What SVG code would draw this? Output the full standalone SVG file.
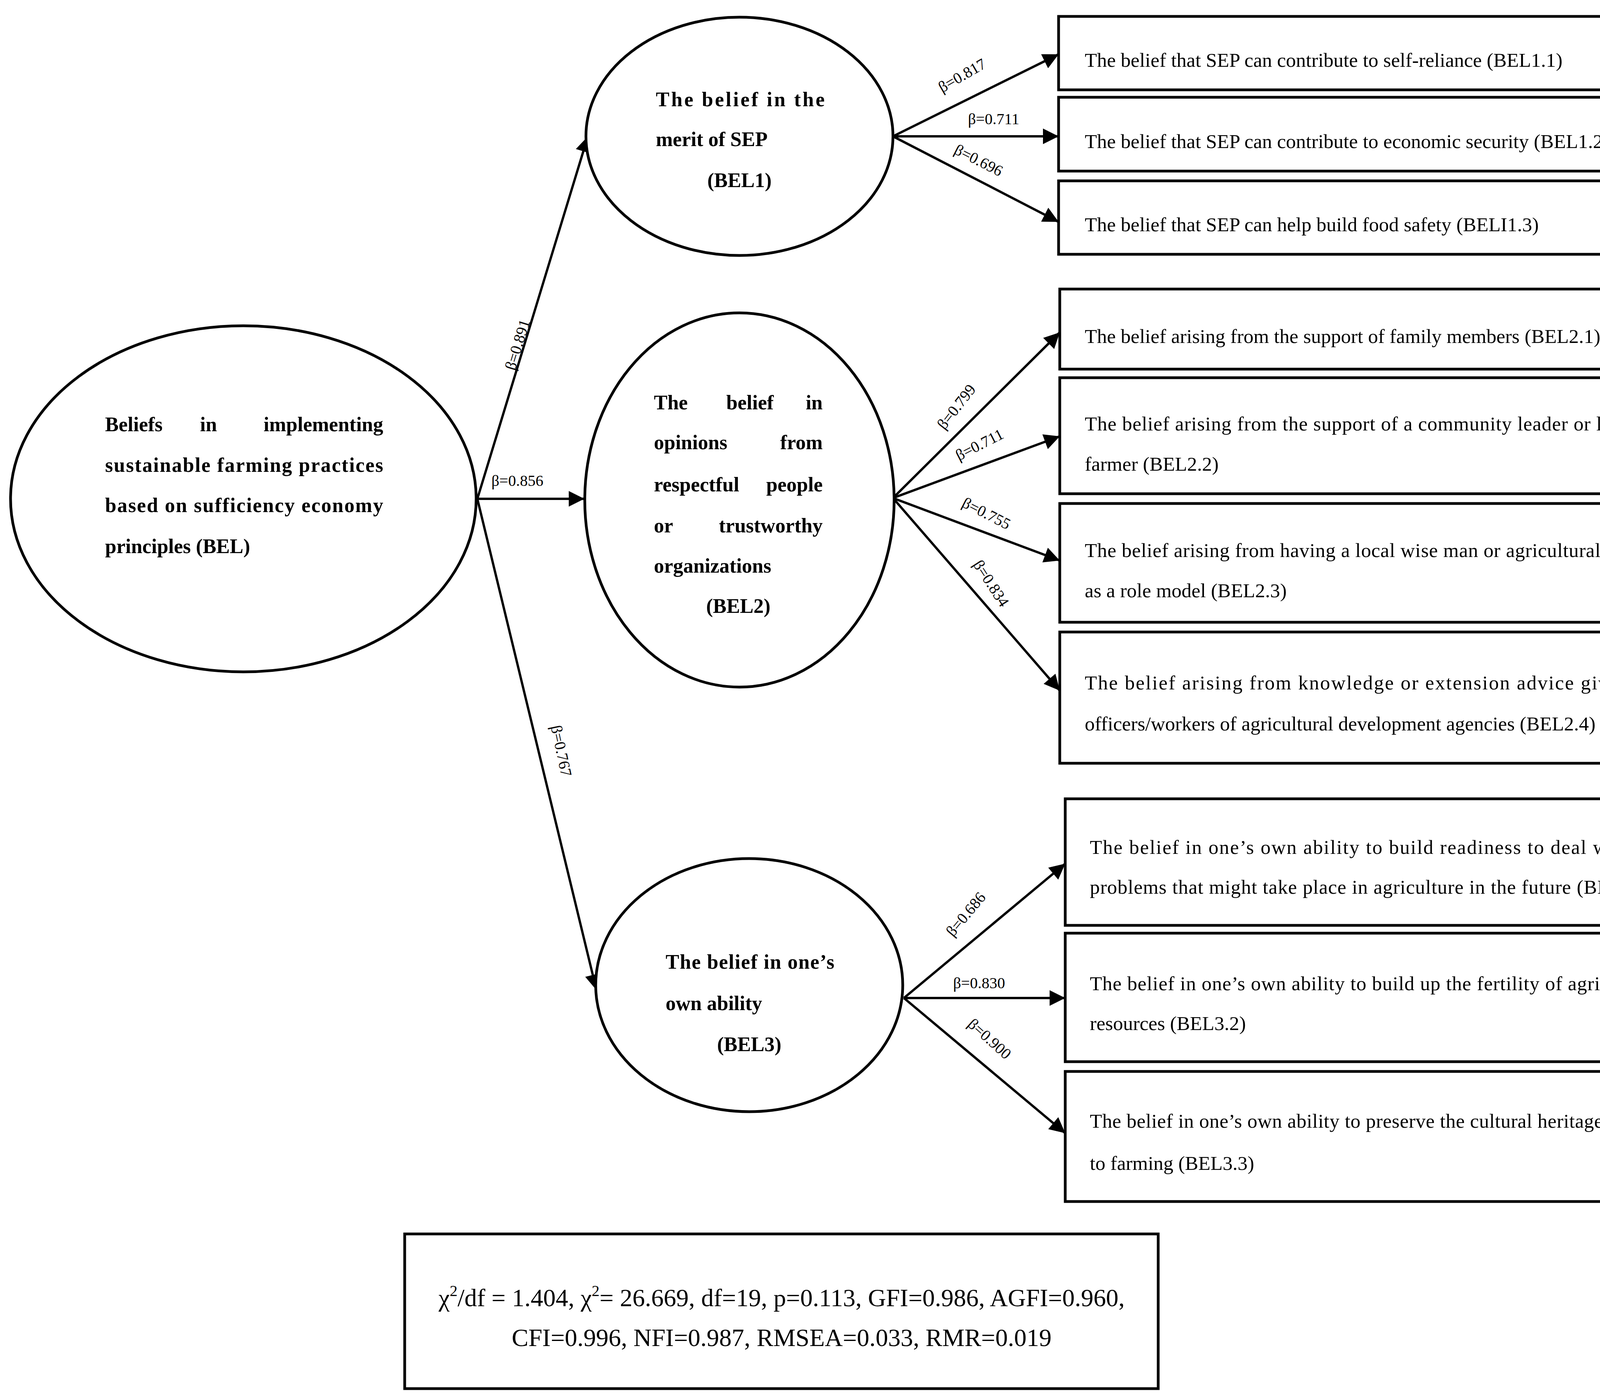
<svg xmlns="http://www.w3.org/2000/svg" width="4342" height="3579" viewBox="0 0 4342 3579">
<style>
.e{fill:#fff;stroke:#000;stroke-width:7}
.b{fill:#fff;stroke:#000;stroke-width:7}
.et{font-family:"Liberation Serif",serif;font-size:52px;font-weight:bold}
.bt{font-family:"Liberation Serif",serif;font-size:51px}
.lb{font-family:"Liberation Serif",serif;font-size:40px}
.c line{stroke:#000;stroke-width:6;marker-end:url(#ah)}
.ft{font-family:"Liberation Serif",serif;font-size:64px}
</style>
<defs>
<marker id="ah" viewBox="0 0 10 10" refX="10" refY="5" markerWidth="44" markerHeight="40" markerUnits="userSpaceOnUse" orient="auto"><path d="M0,0 L10,5 L0,10 z"/></marker>
</defs>
<rect width="4342" height="3579" fill="#fff"/>
<g id="connectors" class="c">
<line x1="1222" y1="1277" x2="1505" y2="349"/>
<line x1="1222" y1="1277" x2="1496" y2="1277"/>
<line x1="1222" y1="1277" x2="1527" y2="2535"/>
<line x1="2286" y1="349" x2="2710" y2="139"/>
<line x1="2286" y1="349" x2="2710" y2="349"/>
<line x1="2286" y1="349" x2="2710" y2="568"/>
<line x1="2286" y1="1275" x2="2713" y2="851"/>
<line x1="2286" y1="1275" x2="2713" y2="1117"/>
<line x1="2286" y1="1275" x2="2713" y2="1435"/>
<line x1="2286" y1="1275" x2="2713" y2="1768"/>
<line x1="2314" y1="2555" x2="2727" y2="2211"/>
<line x1="2314" y1="2555" x2="2727" y2="2555"/>
<line x1="2314" y1="2555" x2="2727" y2="2901"/>
<g class="lb">
<text transform="translate(1318,950) rotate(-73)">β=0.891</text>
<text x="1258" y="1244">β=0.856</text>
<text transform="translate(1410,1860) rotate(78)">β=0.767</text>
<text transform="translate(2412,238) rotate(-30)">β=0.817</text>
<text x="2478" y="318">β=0.711</text>
<text transform="translate(2440,392) rotate(27)">β=0.696</text>
<text transform="translate(2418,1102) rotate(-52)">β=0.799</text>
<text transform="translate(2455,1180) rotate(-27)">β=0.711</text>
<text transform="translate(2460,1296) rotate(27)">β=0.755</text>
<text transform="translate(2490,1445) rotate(57)">β=0.834</text>
<text transform="translate(2440,2400) rotate(-50)">β=0.686</text>
<text x="2440" y="2530">β=0.830</text>
<text transform="translate(2475,2625) rotate(42)">β=0.900</text>
</g>
</g>
<g id="BEL">
<ellipse class="e" cx="623" cy="1277" rx="596" ry="443"/>
<text class="et" y="1104"><tspan x="269">Beliefs</tspan><tspan x="512">in</tspan><tspan x="981" text-anchor="end">implementing</tspan></text>
<text class="et" x="269" y="1208" textLength="712" lengthAdjust="spacing">sustainable farming practices</text>
<text class="et" x="269" y="1311" textLength="712" lengthAdjust="spacing">based on sufficiency economy</text>
<text class="et" x="269" y="1416">principles (BEL)</text>
</g>
<g id="BEL1">
<ellipse class="e" cx="1893" cy="349" rx="393" ry="305"/>
<text class="et" x="1679" y="272" textLength="432" lengthAdjust="spacing">The belief in the</text>
<text class="et" x="1679" y="374">merit of SEP</text>
<text class="et" x="1893" y="479" text-anchor="middle">(BEL1)</text>
</g>
<g id="BEL2">
<ellipse class="e" cx="1893" cy="1280" rx="396" ry="479"/>
<text class="et" y="1048"><tspan x="1674">The</tspan><tspan x="1920" text-anchor="middle">belief</tspan><tspan x="2106" text-anchor="end">in</tspan></text>
<text class="et" y="1150"><tspan x="1674">opinions</tspan><tspan x="2106" text-anchor="end">from</tspan></text>
<text class="et" y="1258"><tspan x="1674">respectful</tspan><tspan x="2106" text-anchor="end">people</tspan></text>
<text class="et" y="1363"><tspan x="1674">or</tspan><tspan x="2106" text-anchor="end">trustworthy</tspan></text>
<text class="et" x="1674" y="1466">organizations</text>
<text class="et" x="1890" y="1569" text-anchor="middle">(BEL2)</text>
</g>
<g id="BEL3">
<ellipse class="e" cx="1918" cy="2522" rx="393" ry="324"/>
<text class="et" x="1704" y="2480" textLength="432" lengthAdjust="spacing">The belief in one’s</text>
<text class="et" x="1704" y="2586">own ability</text>
<text class="et" x="1918" y="2691" text-anchor="middle">(BEL3)</text>
</g>
<g id="BEL1.1"><rect class="b" x="2710" y="42" width="1596" height="188"/><text class="bt" x="2777" y="171">The belief that SEP can contribute to self-reliance (BEL1.1)</text></g>
<g id="BEL1.2"><rect class="b" x="2710" y="249" width="1596" height="189"/><text class="bt" x="2777" y="379">The belief that SEP can contribute to economic security (BEL1.2)</text></g>
<g id="BEL1.3"><rect class="b" x="2710" y="463" width="1596" height="188"/><text class="bt" x="2777" y="592">The belief that SEP can help build food safety (BELI1.3)</text></g>
<g id="BEL2.1"><rect class="b" x="2713" y="740" width="1599" height="205"/><text class="bt" x="2777" y="878">The belief arising from the support of family members (BEL2.1)</text></g>
<g id="BEL2.2"><rect class="b" x="2713" y="967" width="1599" height="297"/><text class="bt" x="2777" y="1102" textLength="1465" lengthAdjust="spacing">The belief arising from the support of a community leader or leading</text><text class="bt" x="2777" y="1205">farmer (BEL2.2)</text></g>
<g id="BEL2.3"><rect class="b" x="2713" y="1289" width="1599" height="304"/><text class="bt" x="2777" y="1426" textLength="1465" lengthAdjust="spacing">The belief arising from having a local wise man or agricultural expert</text><text class="bt" x="2777" y="1529">as a role model (BEL2.3)</text></g>
<g id="BEL2.4"><rect class="b" x="2713" y="1618" width="1599" height="336"/><text class="bt" x="2777" y="1765" textLength="1465" lengthAdjust="spacing">The belief arising from knowledge or extension advice given by</text><text class="bt" x="2777" y="1870">officers/workers of agricultural development agencies (BEL2.4)</text></g>
<g id="BEL3.1"><rect class="b" x="2727" y="2045" width="1596" height="324"/><text class="bt" x="2790" y="2186" textLength="1469" lengthAdjust="spacing">The belief in one’s own ability to build readiness to deal with the</text><text class="bt" x="2790" y="2288" textLength="1465" lengthAdjust="spacing">problems that might take place in agriculture in the future (BELI3.1)</text></g>
<g id="BEL3.2"><rect class="b" x="2727" y="2389" width="1596" height="329"/><text class="bt" x="2790" y="2535" textLength="1469" lengthAdjust="spacing">The belief in one’s own ability to build up the fertility of agricultural</text><text class="bt" x="2790" y="2637">resources (BEL3.2)</text></g>
<g id="BEL3.3"><rect class="b" x="2727" y="2743" width="1596" height="333"/><text class="bt" x="2790" y="2887" textLength="1469" lengthAdjust="spacing">The belief in one’s own ability to preserve the cultural heritage related</text><text class="bt" x="2790" y="2995">to farming (BEL3.3)</text></g>
<g id="fit">
<rect class="b" x="1036" y="3159" width="1929" height="396"/>
<text class="ft" x="2001" y="3344" text-anchor="middle">χ<tspan dy="-26" font-size="40">2</tspan><tspan dy="26">/df = 1.404, χ</tspan><tspan dy="-26" font-size="40">2</tspan><tspan dy="26">= 26.669, df=19, p=0.113, GFI=0.986, AGFI=0.960,</tspan></text>
<text class="ft" x="2001" y="3446" text-anchor="middle">CFI=0.996, NFI=0.987, RMSEA=0.033, RMR=0.019</text>
</g>
</svg>
